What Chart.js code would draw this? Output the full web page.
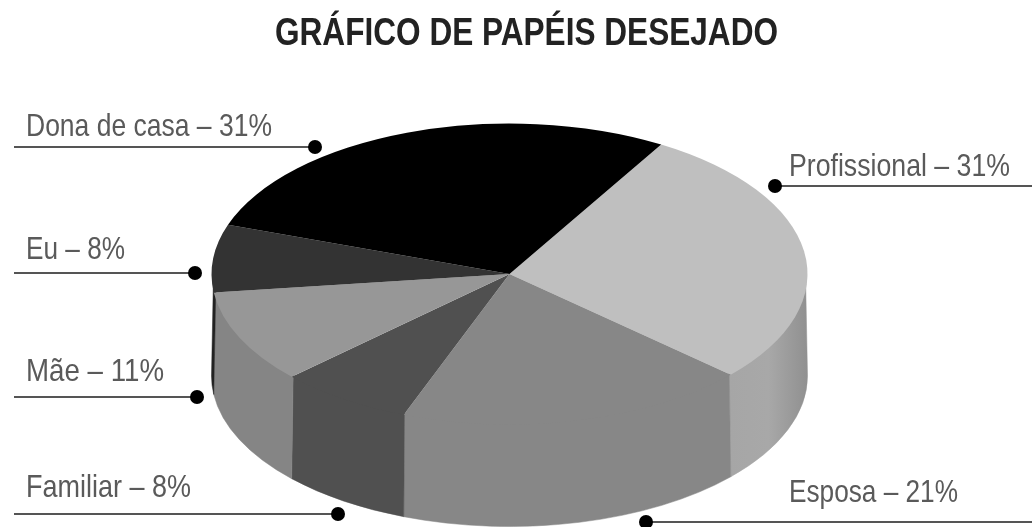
<!DOCTYPE html>
<html>
<head>
<meta charset="utf-8">
<style>
  html, body { margin: 0; padding: 0; background: #fff; }
  canvas { display: block; }
</style>
</head>
<body>
<canvas id="chart" width="1032" height="527"></canvas>
<script src="https://cdn.jsdelivr.net/npm/chart.js@4/dist/chart.umd.min.js"></script>
<script>
const chartTitle = 'GRÁFICO DE PAPÉIS DESEJADO';
const categories = ['Profissional', 'Esposa', 'Familiar', 'Mãe', 'Eu', 'Dona de casa'];
const percents = [31, 21, 8, 11, 8, 31];
const topColors = ['#bfbfbf', '#878787', '#505050', '#979797', '#333333', '#000000'];
const wallColors = ['#a4a4a4', '#878787', '#505050', '#858585', '#222222', '#000000'];

// where the flattened pie sits on the page
const pieX = 509.5, pieY = 274, pieRadius = 298, squash = 0.505, depth = 102;

// callouts, same order as categories: text pos + width, dot, line end
const callouts = [
    { tx: 789, ty: 176, tw: 221, dx: 775, dy: 186, lx: 1032 },
    { tx: 789, ty: 502, tw: 169, dx: 646, dy: 522, lx: 1032 },
    { tx: 26, ty: 497, tw: 165, dx: 338, dy: 514, lx: 14 },
    { tx: 26, ty: 381, tw: 138, dx: 197, dy: 397, lx: 14 },
    { tx: 26, ty: 259, tw: 99, dx: 195, dy: 273, lx: 14 },
    { tx: 26, ty: 136, tw: 246, dx: 315, dy: 147, lx: 14 }
];

// fake 3D: side wall first, then the pie itself squashed in y
const pie3d = {
    id: 'pie3d',
    beforeDatasetsDraw(chart) {
        const ctx = chart.ctx;
        const arcs = chart.getDatasetMeta(0).data;
        const ry = pieRadius * squash;
        arcs.forEach((arc, i) => {
            // wall only shows for the front half, canvas angles 0..PI
            const turn = Math.PI * 2;
            const s = ((arc.startAngle % turn) + turn) % turn;
            const e = s + (arc.endAngle - arc.startAngle);
            const from = s > Math.PI ? (e > turn ? 0 : null) : s;
            if (from === null) return;
            const to = s > Math.PI ? e - turn : Math.min(e, Math.PI);
            if (to <= from) return;

            let fill = wallColors[i];
            if (i === 0) {
                fill = ctx.createLinearGradient(pieX + 220, 0, pieX + pieRadius, 0);
                fill.addColorStop(0, '#a6a6a6');
                fill.addColorStop(0.5, '#a8a8a8');
                fill.addColorStop(1, '#909090');
            }
            // top edge tucked under the pie so no light seam shows
            ctx.beginPath();
            ctx.ellipse(pieX, pieY, pieRadius - 2, ry - 2, 0, from, to);
            ctx.ellipse(pieX, pieY + depth, pieRadius, ry, 0, to, from, true);
            ctx.closePath();
            ctx.fillStyle = fill;
            ctx.strokeStyle = fill;
            ctx.lineWidth = 0.5;
            ctx.fill();
            ctx.stroke();
        });

        ctx.save();
        ctx.translate(pieX, pieY);
        ctx.scale(1, squash);
        ctx.translate(-arcs[0].x, -arcs[0].y);
    },
    afterDatasetsDraw(chart) {
        const ctx = chart.ctx;
        ctx.restore();

        ctx.textAlign = 'left';
        ctx.textBaseline = 'alphabetic';

        // no narrow font here, so squeeze with maxWidth
        ctx.fillStyle = '#222222';
        ctx.font = 'bold 38px "Liberation Sans", sans-serif';
        ctx.fillText(chartTitle, 275, 45, 503);

        categories.forEach((name, i) => {
            const c = callouts[i];
            ctx.strokeStyle = '#555555';
            ctx.lineWidth = 2;
            ctx.beginPath();
            ctx.moveTo(c.lx, c.dy);
            ctx.lineTo(c.dx, c.dy);
            ctx.stroke();

            ctx.fillStyle = '#000000';
            ctx.beginPath();
            ctx.arc(c.dx, c.dy, 7, 0, Math.PI * 2);
            ctx.fill();

            ctx.fillStyle = '#5a5a5a';
            ctx.font = '32px "Liberation Sans", sans-serif';
            ctx.fillText(name + ' – ' + percents[i] + '%', c.tx, c.ty, c.tw);
        });
    }
};

new Chart(document.getElementById('chart'), {
    type: 'pie',
    data: {
        labels: categories,
        datasets: [{
            data: percents,
            backgroundColor: topColors,
            borderWidth: 0,
            radius: pieRadius,
            clip: false
        }]
    },
    plugins: [pie3d],
    options: {
        responsive: false,
        animation: false,
        rotation: 30.6,
        plugins: {
            legend: { display: false },
            tooltip: { enabled: false },
            title: { display: false }
        }
    }
});
</script>
</body>
</html>
